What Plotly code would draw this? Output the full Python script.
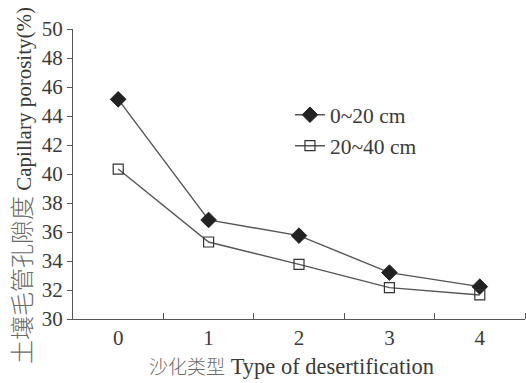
import plotly.graph_objects as go

# Desertification type categories
desert_types = [0, 1, 2, 3, 4]
tick_labels = ["0", "1", "2", "3", "4"]

# Capillary porosity (%) by soil layer
porosity_0_20 = [45.15, 36.83, 35.75, 33.2, 32.23]
porosity_20_40 = [40.34, 35.31, 33.77, 32.16, 31.66]

cjk_style = "font-weight:300;color:#6a6a6a"
x_title = f"<span style='font-size:19px;{cjk_style}'>沙化类型</span> Type of desertification"
y_title = f"<span style='font-size:24px;{cjk_style}'>土壤毛管孔隙度</span> Capillary porosity(%)"

line_color = "#555555"
text_color = "#3a3a3a"
serif = "'Liberation Serif', 'Noto Sans CJK SC', serif"

W, H = 526, 383
M = dict(l=73, r=1, t=29, b=64)

fig = go.Figure()
fig.add_trace(go.Scatter(
    x=desert_types, y=porosity_0_20, name="0~20 cm",
    mode="lines+markers",
    line=dict(color=line_color, width=1.4),
    marker=dict(symbol="diamond", size=12, color="#222222",
                line=dict(color="#222222", width=1)),
))
fig.add_trace(go.Scatter(
    x=desert_types, y=porosity_20_40, name="20~40 cm",
    mode="lines+markers",
    line=dict(color=line_color, width=1.4),
    marker=dict(symbol="square-open", size=10, color="#333333",
                line=dict(width=1.2)),
))

plot_w = W - M["l"] - M["r"]
plot_h = H - M["t"] - M["b"]

# Axis titles placed as annotations (paper coords derived from pixel offsets)
fig.add_annotation(
    text=x_title, showarrow=False, xref="paper", yref="paper",
    x=(291 - M["l"]) / plot_w, y=-(367 - (H - M["b"])) / plot_h,
    xanchor="center", yanchor="middle",
    font=dict(family=serif, size=22.5, color=text_color),
)
fig.add_annotation(
    text=y_title, showarrow=False, xref="paper", yref="paper",
    textangle=-90,
    x=(23 - M["l"]) / plot_w, y=((H - M["b"]) - 186) / plot_h,
    xanchor="center", yanchor="middle",
    font=dict(family=serif, size=21, color=text_color),
)

fig.update_layout(
    width=W, height=H,
    margin=M,
    paper_bgcolor="white", plot_bgcolor="white",
    font=dict(family=serif, size=20, color=text_color),
    showlegend=True,
    legend=dict(x=0.48, y=0.775, xanchor="left", yanchor="top",
                bgcolor="rgba(0,0,0,0)",
                font=dict(family=serif, size=21.5, color=text_color),
                itemwidth=30),
    xaxis=dict(
        range=[-0.5, 4.5],
        tickvals=desert_types, ticktext=tick_labels, ticks="",
        tickfont=dict(family=serif, size=21, color=text_color),
        showgrid=False, zeroline=False,
        showline=True, linecolor=line_color, linewidth=1.3,
        minor=dict(tickvals=[0.5, 1.5, 2.5, 3.5, 4.5], ticks="inside",
                   ticklen=6, tickcolor=line_color, tickwidth=1.2,
                   showgrid=False),
    ),
    yaxis=dict(
        range=[30, 50], dtick=2, tick0=30,
        ticks="outside", ticklen=5, tickcolor=line_color, tickwidth=1.2,
        tickfont=dict(family=serif, size=21, color=text_color),
        showgrid=False, zeroline=False,
        showline=True, linecolor=line_color, linewidth=1.3,
    ),
)

fig.write_html("out.html")
